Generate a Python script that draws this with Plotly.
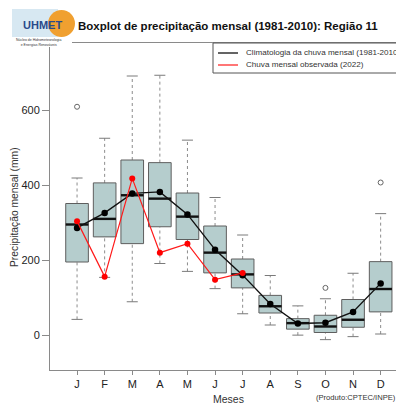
import plotly.graph_objects as go

# ---- data ----
months = ["J", "F", "M", "A", "M", "J", "J", "A", "S", "O", "N", "D"]
whisk_low = [42, 154, 89, 191, 170, 124, 57, 27, 0, -12, -4, 3]
q1 = [195, 262, 244, 289, 255, 166, 126, 59, 16, 7, 21, 62]
median = [295, 310, 373, 364, 316, 220, 162, 77, 32, 23, 41, 123]
q3 = [351, 406, 467, 460, 379, 291, 203, 106, 44, 53, 95, 196]
whisk_high = [419, 525, 691, 693, 520, 367, 267, 159, 78, 97, 165, 324]
mean_clim = [286, 326, 378, 382, 322, 228, 160, 83, 31, 33, 62, 138]
outlier_month = [1, 10, 12]
outlier_value = [609, 126, 407]
obs_2022 = [304, 156, 418, 220, 244, 148, 166]

pos = list(range(1, len(months) + 1))
BW = 0.41   # half box width
CW = 0.2    # half cap width

OFF = 8  # page body margin of the browser
W, H = 404 - OFF, 404 - OFF
ML, MR, MT, MB = 50 - OFF, 0, 43 - OFF, 404 - 370
PW, PH = W - ML - MR, H - MT - MB


def px(x):  # screenshot pixel -> paper x
    return (x - OFF - ML) / PW


def py(y):  # screenshot pixel -> paper y
    return (H - MB - (y - OFF)) / PH


FONT = "Liberation Sans, Arial, Helvetica, sans-serif"

fig = go.Figure()

# whiskers (dotted)
wx, wy = [], []
for p, lo, a, b, hi in zip(pos, whisk_low, q1, q3, whisk_high):
    wx += [p, p, None, p, p, None]
    wy += [lo, a, None, b, hi, None]
fig.add_trace(go.Scatter(x=wx, y=wy, mode="lines", hoverinfo="skip", showlegend=False,
                         line=dict(color="#8c8c8c", width=1, dash="dot")))
# caps
cx, cy = [], []
for p, lo, hi in zip(pos, whisk_low, whisk_high):
    cx += [p - CW, p + CW, None, p - CW, p + CW, None]
    cy += [lo, lo, None, hi, hi, None]
fig.add_trace(go.Scatter(x=cx, y=cy, mode="lines", hoverinfo="skip", showlegend=False,
                         line=dict(color="#7a7a7a", width=1)))
# boxes
bx, by = [], []
for p, a, b in zip(pos, q1, q3):
    bx += [p - BW, p + BW, p + BW, p - BW, p - BW, None]
    by += [a, a, b, b, a, None]
fig.add_trace(go.Scatter(x=bx, y=by, mode="lines", fill="toself", fillcolor="#b5cdcd",
                         hoverinfo="skip", showlegend=False,
                         line=dict(color="#5e5e5e", width=1)))
# medians
mx, my = [], []
for p, m in zip(pos, median):
    mx += [p - BW, p + BW, None]
    my += [m, m, None]
fig.add_trace(go.Scatter(x=mx, y=my, mode="lines", hoverinfo="skip", showlegend=False,
                         line=dict(color="#111111", width=2.4)))
# outliers
fig.add_trace(go.Scatter(x=outlier_month, y=outlier_value, mode="markers", showlegend=False,
                         marker=dict(symbol="circle-open", size=5, color="#666666",
                                     line=dict(width=1, color="#666666"))))
# climatological mean
fig.add_trace(go.Scatter(x=pos, y=mean_clim, mode="lines+markers", showlegend=False,
                         line=dict(color="#111111", width=1.4),
                         marker=dict(color="#000000", size=6.5)))
# observed 2022
fig.add_trace(go.Scatter(x=pos[:len(obs_2022)], y=obs_2022, mode="lines+markers",
                         showlegend=False,
                         line=dict(color="#ff1a1a", width=1.2),
                         marker=dict(color="#ff0000", size=6)))

shapes = []
annotations = []

# legend box (manual, running to the right edge like the reference)
shapes.append(dict(type="rect", xref="paper", yref="paper",
                   x0=px(213), x1=px(430), y0=py(73), y1=py(43),
                   line=dict(color="#555555", width=1), fillcolor="white", layer="above"))
shapes.append(dict(type="line", xref="paper", yref="paper",
                   x0=px(218), x1=px(238), y0=py(53), y1=py(53),
                   line=dict(color="#222222", width=1.4), layer="above"))
shapes.append(dict(type="line", xref="paper", yref="paper",
                   x0=px(218), x1=px(238), y0=py(65), y1=py(65),
                   line=dict(color="#ff1a1a", width=1.2), layer="above"))
annotations.append(dict(xref="paper", yref="paper", x=px(244), y=py(53),
                        xanchor="left", yanchor="middle", showarrow=False,
                        text="Climatologia da chuva mensal (1981-2010)",
                        font=dict(family=FONT, size=8.1, color="#333333")))
annotations.append(dict(xref="paper", yref="paper", x=px(244), y=py(65),
                        xanchor="left", yanchor="middle", showarrow=False,
                        text="Chuva mensal observada (2022)",
                        font=dict(family=FONT, size=8.1, color="#333333")))

# title
annotations.append(dict(xref="paper", yref="paper", x=px(76), y=py(26),
                        xanchor="left", yanchor="middle", showarrow=False,
                        text="<b>Boxplot de precipitação mensal (1981-2010): Região 11</b>",
                        font=dict(family=FONT, size=11.5, color="#111111")))
# y axis title
annotations.append(dict(xref="paper", yref="paper", x=px(15), y=py(207),
                        xanchor="center", yanchor="middle", showarrow=False, textangle=-90,
                        text="Precipitação mensal (mm)",
                        font=dict(family=FONT, size=10.3, color="#333333")))
# x axis title
annotations.append(dict(xref="x", yref="paper", x=6.5, y=py(399),
                        xanchor="center", yanchor="middle", showarrow=False,
                        text="Meses", font=dict(family=FONT, size=10.5, color="#333333")))
annotations.append(dict(xref="paper", yref="paper", x=px(314), y=py(397),
                        xanchor="left", yanchor="middle", showarrow=False,
                        text="(Produto:CPTEC/INPE)",
                        font=dict(family=FONT, size=7.6, color="#333333")))

# rough logo
shapes.append(dict(type="rect", xref="paper", yref="paper",
                   x0=px(12), x1=px(58), y0=py(37), y1=py(9),
                   line=dict(width=0), fillcolor="#d7e8f2", layer="above"))
shapes.append(dict(type="circle", xref="paper", yref="paper",
                   x0=px(48), x1=px(75), y0=py(37), y1=py(10),
                   line=dict(width=0), fillcolor="#f0a030", layer="above"))
shapes.append(dict(type="rect", xref="paper", yref="paper",
                   x0=px(12), x1=px(72), y0=py(47), y1=py(38),
                   line=dict(width=0), fillcolor="#ffffff", layer="above"))
annotations.append(dict(xref="paper", yref="paper", x=px(42), y=py(25),
                        xanchor="center", yanchor="middle", showarrow=False,
                        text="<b>UHMET</b>",
                        font=dict(family=FONT, size=11, color="#2a4a8a")))
annotations.append(dict(xref="paper", yref="paper", x=px(38), y=py(42),
                        xanchor="center", yanchor="middle", showarrow=False,
                        text="Núcleo de Hidrometeorologia<br>e Energias Renováveis",
                        font=dict(family=FONT, size=3.5, color="#333333")))

fig.update_layout(
    width=W, height=H,
    margin=dict(l=ML, r=MR, t=MT, b=MB),
    paper_bgcolor="white", plot_bgcolor="white",
    font=dict(family=FONT, size=11, color="#333333"),
    shapes=shapes, annotations=annotations,
    showlegend=False,
)
fig.update_xaxes(range=[0.02, 0.02 + PW / 27.6], tickvals=pos, ticktext=months,
                 showgrid=False, zeroline=False, showline=True, linecolor="#8a8a8a",
                 linewidth=1, mirror=True, ticks="outside", ticklen=4, tickcolor="#8a8a8a",
                 tickfont=dict(family=FONT, size=11, color="#222222"))
fig.update_yaxes(range=[-93, 779], tickvals=[0, 200, 400, 600],
                 showgrid=False, zeroline=False, showline=True, linecolor="#8a8a8a",
                 linewidth=1, mirror=False, ticks="outside", ticklen=7, tickcolor="#8a8a8a",
                 tickfont=dict(family=FONT, size=11, color="#222222"))

fig.write_html("out.html")
